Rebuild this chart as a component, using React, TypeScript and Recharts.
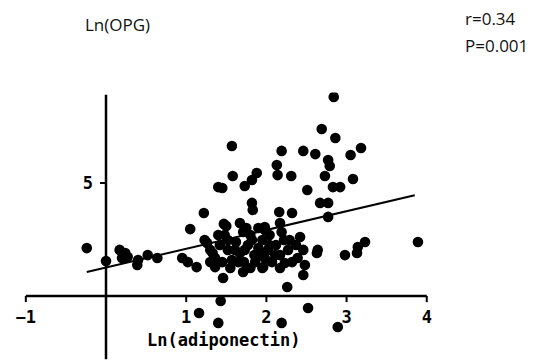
import { ScatterChart, Scatter, XAxis, YAxis, ReferenceLine, ReferenceDot } from "recharts";

// Ln(adiponectin) values
const adiponectin = [
  -0.24, 0.0, 0.17, 0.24, 0.2, 0.27, 0.39, 0.4, 0.52, 0.64, 0.95, 1.02, 1.13, 1.05,
  1.16, 1.43, 1.4, 2.19, 2.52, 2.89, 2.26,
  1.57, 1.58, 1.4, 1.45, 1.73, 1.82, 1.88, 1.82, 1.83, 1.22, 1.47, 1.67, 1.71,
  2.84, 2.69, 2.86, 2.19, 2.46, 2.61, 2.77, 2.79, 3.05, 3.18, 2.13, 2.14, 2.31,
  2.73, 3.08, 2.51, 2.83, 2.92, 2.67, 2.77, 2.77, 2.16, 2.32, 1.98, 2.17, 2.42,
  2.46, 2.64, 2.63, 2.48, 2.46, 2.98, 3.13, 3.23, 3.14, 3.89, 1.26, 1.46,
  1.23, 1.3, 1.33, 1.36, 1.36, 1.42, 1.48, 1.52, 1.57, 1.62, 1.67, 1.71, 1.72,
  1.77, 1.8, 1.85, 1.9, 1.95, 1.95, 1.98, 2.02, 2.07, 2.12, 2.17, 2.22, 2.23,
  2.27, 2.32, 2.37, 1.55, 1.8, 1.3, 2.04, 1.5, 1.75, 1.9, 2.19, 1.96,
  1.4, 1.61, 1.65, 1.86, 1.92, 2.04, 2.11, 2.29, 2.39, 1.45, 1.73, 1.98, 1.82,
  1.52, 2.17,
];

// Ln(OPG) values, same order
const opg = [
  2.12, 1.55, 2.04, 1.9, 1.68, 1.73, 1.37, 1.59, 1.81, 1.68, 1.68, 1.5, 1.28, 2.96,
  -0.75, -0.22, -1.19, -1.19, -0.53, -1.37, 0.4,
  6.64, 5.31, 4.82, 4.78, 4.87, 5.13, 5.44, 4.12, 3.81, 3.67, 3.19, 3.23, 2.83,
  8.81, 7.39, 6.99, 6.42, 6.42, 6.28, 6.02, 5.75, 6.24, 6.55, 5.8, 5.35, 5.31,
  5.31, 5.18, 4.69, 4.82, 4.82, 4.12, 4.12, 3.5, 3.72, 3.67, 3.05, 3.23, 2.61,
  2.04, 2.04, 1.9, 1.37, 0.93, 1.81, 1.9, 2.39, 2.17, 2.39, 2.35, 0.8,
  2.48, 2.04, 1.9, 1.68, 1.28, 2.26, 2.7, 2.04, 1.59, 2.39, 1.9, 1.06, 1.5,
  2.26, 2.7, 1.81, 2.12, 2.48, 1.24, 1.68, 2.04, 1.5, 2.26, 1.81, 2.48, 1.46,
  2.04, 1.5, 2.26, 1.24, 1.24, 1.5, 2.7, 3.1, 3.01, 3.01, 2.83, 1.28,
  2.7, 2.04, 1.5, 1.5, 1.81, 2.26, 1.81, 2.48, 1.68, 1.5, 2.04, 2.92, 2.48,
  2.48, 1.24,
];

const fitLine = [
  { x: -0.24, y: 1.06 },
  { x: 3.85, y: 4.46 },
];

const xTicks = [-1, 1, 2, 3, 4];
const yTicks = [5];

const points = adiponectin.map((x, i) => ({ x, y: opg[i] }));

const axisFont = "'DejaVu Sans Mono', monospace";
const noteFont = "'Open Sans', sans-serif";

export default function App() {
  return (
    <div style={{ position: "absolute", left: 0, top: 0, width: 539, height: 360, background: "#fff" }}>
      <ScatterChart
        width={539}
        height={360}
        margin={{ top: 92.6, right: 96.2, bottom: 0.7, left: 17.8 }}
      >
        <XAxis type="number" dataKey="x" domain={[-1.1, 4.2]} allowDataOverflow hide />
        <YAxis type="number" dataKey="y" domain={[-2.8, 9]} allowDataOverflow hide />

        <ReferenceLine
          segment={[{ x: -1, y: 0 }, { x: 4, y: 0 }]}
          stroke="#000"
          strokeWidth={2.5}
        />
        <ReferenceLine
          segment={[{ x: 0, y: -2.8 }, { x: 0, y: 8.9 }]}
          stroke="#000"
          strokeWidth={2.5}
        />
        {xTicks.map((t) => (
          <ReferenceLine
            key={"xt" + t}
            segment={[{ x: t, y: 0 }, { x: t, y: -0.27 }]}
            stroke="#000"
            strokeWidth={2}
          />
        ))}
        {yTicks.map((t) => (
          <ReferenceLine
            key={"yt" + t}
            segment={[{ x: 0, y: t }, { x: -0.075, y: t }]}
            stroke="#000"
            strokeWidth={2}
          />
        ))}
        {xTicks.map((t) => (
          <ReferenceDot
            key={"xl" + t}
            x={t}
            y={0}
            r={0}
            stroke="none"
            fill="none"
            label={{
              value: t < 0 ? "\u2212" + Math.abs(t) : String(t),
              position: "bottom",
              offset: 15,
              fill: "#000",
              fontSize: 17,
              fontWeight: "bold",
              fontFamily: axisFont,
            }}
          />
        ))}
        {yTicks.map((t) => (
          <ReferenceDot
            key={"yl" + t}
            x={0}
            y={t}
            r={0}
            stroke="none"
            fill="none"
            label={{
              value: String(t),
              position: "left",
              offset: 13,
              fill: "#000",
              fontSize: 17,
              fontWeight: "bold",
              fontFamily: axisFont,
            }}
          />
        ))}

        <Scatter
          data={points}
          isAnimationActive={false}
          shape={(p: any) => <circle cx={p.cx} cy={p.cy} r={5.3} fill="#000" />}
        />
        <ReferenceLine segment={fitLine} stroke="#000" strokeWidth={2} />
      </ScatterChart>

      <div style={{ position: "absolute", left: 85, top: 13, fontFamily: noteFont, fontSize: 17, color: "#111" }}>
        Ln(OPG)
      </div>
      <div style={{ position: "absolute", left: 465, top: 5, fontFamily: noteFont, fontSize: 17, color: "#111", lineHeight: "27px" }}>
        r=0.34
        <br />
        P=0.001
      </div>
      <div
        style={{
          position: "absolute",
          left: 147,
          top: 330,
          fontFamily: axisFont,
          fontSize: 17,
          fontWeight: "bold",
          color: "#000",
        }}
      >
        Ln(adiponectin)
      </div>
    </div>
  );
}
